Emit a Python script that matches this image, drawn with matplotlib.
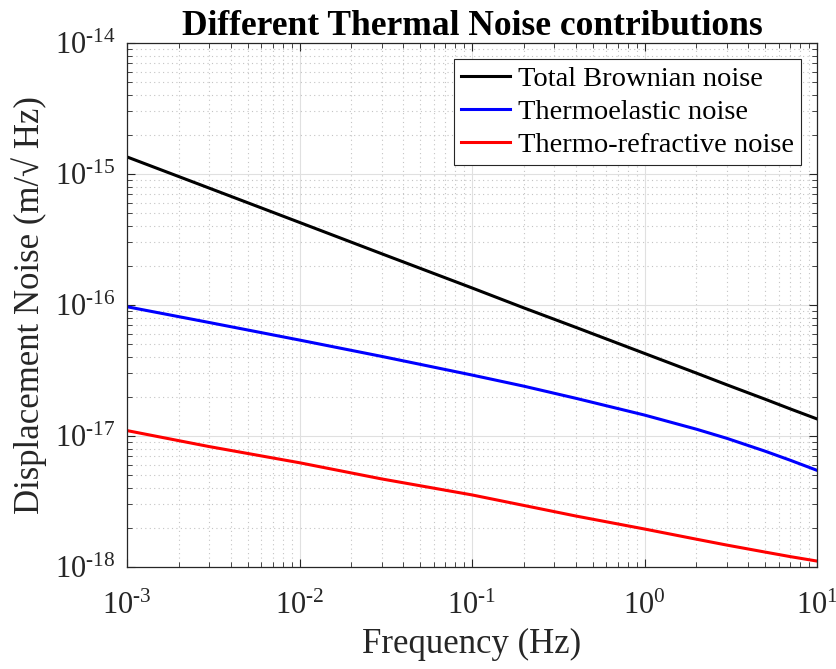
import numpy as np
import matplotlib.pyplot as plt
from matplotlib.ticker import LogLocator, NullFormatter, FuncFormatter

# =========================================================
# DATA
# =========================================================
freq = [1e-3, 3e-3, 1e-2, 3e-2, 0.1, 0.2, 0.4, 1.0, 2.0, 3.0, 5.0, 7.0, 10.0]

brownian = [1.35e-15, 7.8e-16, 4.27e-16, 2.46e-16, 1.35e-16, 9.5e-17, 6.75e-17,
            4.27e-17, 3.02e-17, 2.46e-17, 1.91e-17, 1.61e-17, 1.35e-17]
thermoelastic = [9.7e-17, 7.35e-17, 5.4e-17, 4.05e-17, 2.92e-17, 2.40e-17, 1.94e-17,
                 1.445e-17, 1.127e-17, 9.6e-18, 7.66e-18, 6.53e-18, 5.47e-18]
thermorefractive = [1.1e-17, 8.3e-18, 6.25e-18, 4.7e-18, 3.55e-18, 2.95e-18, 2.45e-18,
                    1.95e-18, 1.63e-18, 1.47e-18, 1.3e-18, 1.2e-18, 1.11e-18]

labels = ["Total Brownian noise", "Thermoelastic noise", "Thermo-refractive noise"]
colors = ["black", "blue", "red"]

# =========================================================
# PLOT
# =========================================================
plt.rcParams['font.family'] = ['Liberation Serif', 'DejaVu Serif']
plt.rcParams['mathtext.fontset'] = 'custom'
plt.rcParams['mathtext.rm'] = 'Liberation Serif'
plt.rcParams['mathtext.it'] = 'Liberation Serif:italic'
plt.rcParams['mathtext.bf'] = 'Liberation Serif:bold'

DARK = '#262626'

fig = plt.figure(figsize=(8.36, 6.69), dpi=100)
ax = fig.add_axes([127 / 836, 1 - 567 / 669, 690 / 836, 524 / 669])

for y, lab, c in zip([brownian, thermoelastic, thermorefractive], labels, colors):
    ax.loglog(freq, y, color=c, linewidth=2.2, label=lab)

ax.set_xlim(1e-3, 1e1)
ax.set_ylim(1e-18, 1e-14)


def pow10(v, pos):
    e = int(round(np.log10(v)))
    return r'$10^{\text{%d}}$' % e


for axis in (ax.xaxis, ax.yaxis):
    axis.set_major_locator(LogLocator(base=10, numticks=10))
    axis.set_minor_locator(LogLocator(base=10, subs=np.arange(2, 10), numticks=20))
    axis.set_major_formatter(FuncFormatter(pow10))
    axis.set_minor_formatter(NullFormatter())

ax.grid(True, which='major', color='#e0e0e0', linestyle='-', linewidth=0.8)
ax.grid(True, which='minor', color='#c4c4c4', linestyle=(0, (1, 3)), linewidth=0.8)
ax.set_axisbelow(True)

ax.tick_params(which='both', direction='in', top=True, right=True,
               colors=DARK, labelsize=22)
ax.tick_params(which='major', length=6, width=0.8)
ax.tick_params(which='minor', length=3.5, width=0.6)
ax.tick_params(axis='x', pad=18)
ax.tick_params(axis='y', pad=8)
for s in ax.spines.values():
    s.set_color(DARK)
    s.set_linewidth(0.9)

ax.set_xlabel("Frequency (Hz)", fontsize=25, color=DARK, labelpad=5)
ax.set_ylabel("Displacement Noise (m/\u221a Hz)", fontsize=25, color=DARK, labelpad=5.5)
ax.set_title("Different Thermal Noise contributions", fontsize=25.5,
             fontweight='bold', pad=4.5)

leg = ax.legend(loc='upper right', fontsize=20.5, frameon=True, fancybox=False,
                edgecolor=DARK, framealpha=1, handlelength=1.7,
                borderpad=0.25, labelspacing=0.26, handletextpad=0.3,
                borderaxespad=0.55)
leg.get_frame().set_linewidth(0.8)

fig.savefig('out.png', dpi=100)
